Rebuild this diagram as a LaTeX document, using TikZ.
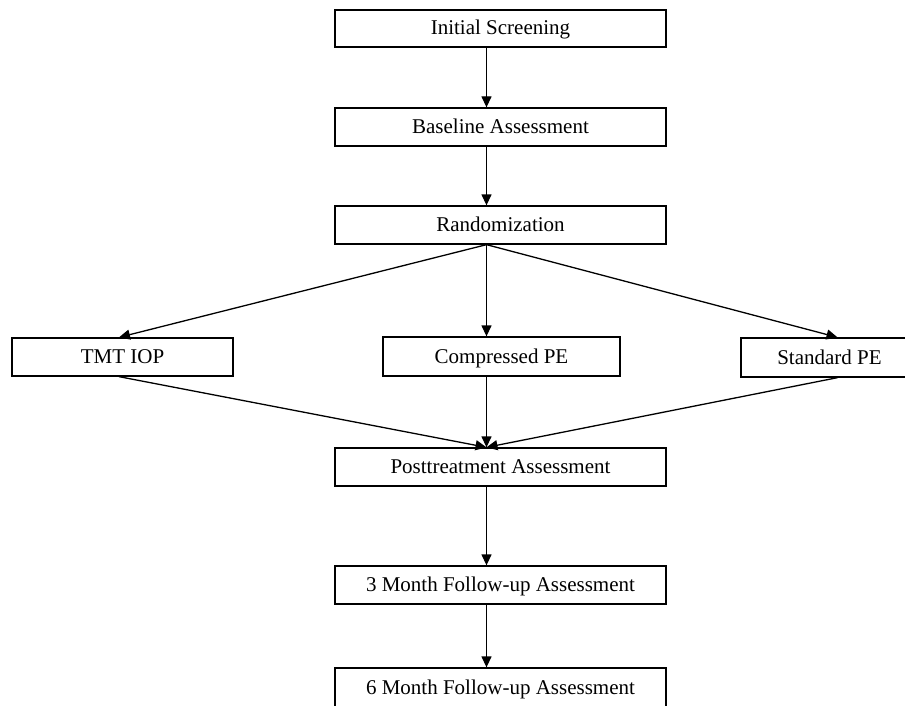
\documentclass[tikz,border=0pt]{standalone}
\usepackage{fontspec}
\setmainfont{Liberation Serif}
\usetikzlibrary{arrows.meta}
\begin{document}
\begin{tikzpicture}[x=1pt,y=-1pt,
  box/.style={draw,line width=1.3pt,rectangle,inner sep=0pt,text height=14pt,text depth=1pt,font=\fontsize{21}{24}\selectfont},
  conn/.style={line width=1.3pt,-{Triangle[length=11pt,width=10pt]}}]
\useasboundingbox (0,0) rectangle (905,706);
\clip (0,0) rectangle (905,706);
\node[box,minimum width=331pt,minimum height=37pt] (init) at (500.5,28.5) {Initial Screening};
\node[box,minimum width=331pt,minimum height=38pt] (base) at (500.5,127) {Baseline Assessment};
\node[box,minimum width=331pt,minimum height=38pt] (rand) at (500.5,225) {Randomization};
\node[box,minimum width=221pt,minimum height=38pt] (tmt) at (122.5,357) {TMT IOP};
\node[box,minimum width=237pt,minimum height=39pt] (comp) at (501.5,356.5) {Compressed PE};
\node[box,minimum width=177pt,minimum height=39pt] (std) at (829.5,357.5) {Standard PE};
\node[box,minimum width=331pt,minimum height=38pt] (post) at (500.5,467) {Posttreatment Assessment};
\node[box,minimum width=331pt,minimum height=38pt] (m3) at (500.5,585) {3 Month Follow-up Assessment};
\node[box,minimum width=331pt,minimum height=40pt] (m6) at (500.5,688) {6 Month Follow-up Assessment};
\coordinate (ax) at (486.5,0);
\coordinate (tx) at (119,0);
\coordinate (sx) at (837.5,0);
\draw[conn] (init.south -| ax) -- (base.north -| ax);
\draw[conn] (base.south -| ax) -- (rand.north -| ax);
\draw[conn] (rand.south -| ax) -- (tmt.north -| tx);
\draw[conn] (rand.south -| ax) -- (comp.north -| ax);
\draw[conn] (rand.south -| ax) -- (std.north -| sx);
\draw[conn] (tmt.south -| tx) -- (post.north -| ax);
\draw[conn] (comp.south -| ax) -- (post.north -| ax);
\draw[conn] (std.south -| sx) -- (post.north -| ax);
\draw[conn] (post.south -| ax) -- (m3.north -| ax);
\draw[conn] (m3.south -| ax) -- (m6.north -| ax);
\end{tikzpicture}
\end{document}
